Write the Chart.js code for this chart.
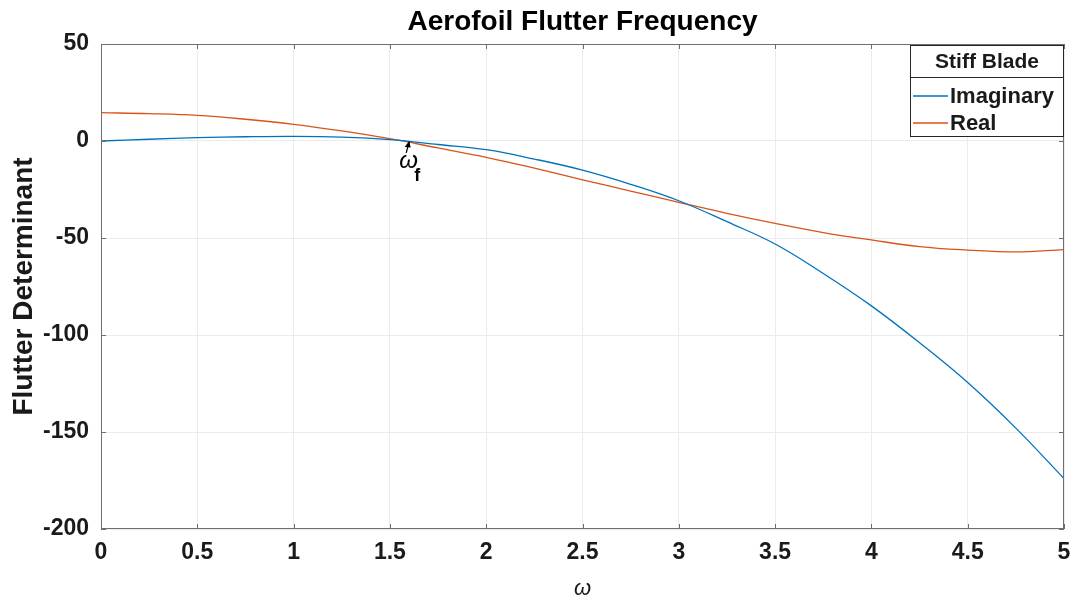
<!DOCTYPE html>
<html>
<head>
<meta charset="utf-8">
<script src="https://cdn.jsdelivr.net/npm/chart.js@4/dist/chart.umd.min.js"></script>
<style>
  html, body { margin: 0; padding: 0; background: #fff; }
  #wrap { width: 1078px; height: 604px; }
</style>
</head>
<body>
<div id="wrap"><canvas id="chartFlutter"></canvas></div>
<script>
// valores (passo de 0.25 em omega)
const omega = [0, 0.25, 0.5, 0.75, 1, 1.25, 1.5, 1.75, 2, 2.25, 2.5, 2.75, 3, 3.25, 3.5, 3.75, 4, 4.25, 4.5, 4.75, 5]
const imaginary = [0, 0.9, 1.7, 2.2, 2.4, 2.0, 0.7, -1.8, -4.5, -9.3, -15, -22.3, -30.8, -41.6, -53.1, -68.3, -85, -104, -124.5, -148, -174]
const real = [14.6, 14.1, 13.2, 11.2, 8.6, 5.2, 1.2, -3.6, -8.4, -14, -20, -25.8, -31.6, -37.3, -42.5, -47.2, -51, -54.4, -56.2, -57.2, -56]
const seriesNames = ['Imaginary', 'Real']
const legendTitle = 'Stiff Blade'
const flutterOmega = 1.6

const blue = '#0072BD'
const orange = '#D95319'
const axisColor = '#6e6e6e'
const textColor = '#1a1a1a'
const FONT = '"Liberation Sans", Arial, sans-serif'

Chart.defaults.font.family = FONT
Chart.defaults.color = textColor

const toPoints = ys => omega.map((x, i) => ({ x: x, y: ys[i] }))

// caixa estilo MATLAB + ticks para dentro + legenda + anotação omega_f
const matlabExtras = {
    id: 'matlabExtras',
    afterDraw(chart) {
        const { ctx, chartArea: a, scales: { x, y } } = chart
        ctx.save()
        // caixa
        ctx.strokeStyle = axisColor
        ctx.lineWidth = 1
        ctx.strokeRect(a.left + 0.5, a.top + 0.5, a.right - a.left - 1, a.bottom - a.top - 1)
        // ticks para dentro
        const tl = 5
        ctx.beginPath()
        x.ticks.forEach(t => {
            const px = Math.round(x.getPixelForValue(t.value)) + 0.5
            ctx.moveTo(px, a.bottom); ctx.lineTo(px, a.bottom - tl)
            ctx.moveTo(px, a.top); ctx.lineTo(px, a.top + tl)
        })
        y.ticks.forEach(t => {
            const py = Math.round(y.getPixelForValue(t.value)) + 0.5
            ctx.moveTo(a.left, py); ctx.lineTo(a.left + tl, py)
            ctx.moveTo(a.right, py); ctx.lineTo(a.right - tl, py)
        })
        ctx.stroke()

        // anotação omega_f
        const fx = x.getPixelForValue(flutterOmega)
        const fy = y.getPixelForValue(0)
        ctx.strokeStyle = '#000'
        ctx.fillStyle = '#000'
        ctx.lineWidth = 1.2
        ctx.beginPath()
        ctx.moveTo(fx - 3, fy + 12)
        ctx.lineTo(fx, fy + 1)
        ctx.stroke()
        ctx.beginPath()
        ctx.moveTo(fx, fy)
        ctx.lineTo(fx - 4.5, fy + 6)
        ctx.lineTo(fx + 1.5, fy + 6.5)
        ctx.closePath()
        ctx.fill()
        ctx.textBaseline = 'alphabetic'
        ctx.textAlign = 'left'
        ctx.font = 'italic 24px ' + FONT
        ctx.fillText('ω', fx - 10, fy + 27)
        ctx.font = 'bold 18px ' + FONT
        ctx.fillText('f', fx + 5, fy + 40)

        // legenda
        const lw = 154, lh = 92
        const lx = a.right - lw, ly = a.top + 1
        ctx.fillStyle = '#fff'
        ctx.fillRect(lx, ly, lw, lh)
        ctx.strokeStyle = '#262626'
        ctx.lineWidth = 1
        ctx.strokeRect(lx + 0.5, ly + 0.5, lw - 1, lh - 1)
        ctx.beginPath()
        ctx.moveTo(lx, ly + 32.5)
        ctx.lineTo(lx + lw, ly + 32.5)
        ctx.stroke()
        ctx.fillStyle = textColor
        ctx.font = 'bold 21px ' + FONT
        ctx.textAlign = 'center'
        ctx.textBaseline = 'middle'
        ctx.fillText(legendTitle, lx + lw / 2, ly + 17)
        ctx.textAlign = 'left'
        chart.data.datasets.forEach((ds, i) => {
            const ry = ly + 51 + i * 27
            ctx.strokeStyle = ds.borderColor
            ctx.lineWidth = 1.3
            ctx.beginPath()
            ctx.moveTo(lx + 3, ry)
            ctx.lineTo(lx + 38, ry)
            ctx.stroke()
            ctx.fillStyle = textColor
            ctx.font = 'bold 22px ' + FONT
            ctx.fillText(ds.label, lx + 40, ry + 1)
        })
        ctx.restore()
    }
}

new Chart(document.getElementById('chartFlutter'), {
    type: 'line',
    data: {
        datasets: [
            { label: seriesNames[0], data: toPoints(imaginary), borderColor: blue, borderWidth: 1.3 },
            { label: seriesNames[1], data: toPoints(real), borderColor: orange, borderWidth: 1.3 }
        ]
    },
    options: {
        responsive: true,
        maintainAspectRatio: false,
        animation: false,
        layout: { padding: { left: 0, right: 14, top: 0, bottom: 0 } },
        elements: {
            point: { radius: 0 },
            line: { tension: 0.4, fill: false }
        },
        plugins: {
            legend: { display: false },
            tooltip: { enabled: false },
            title: {
                display: true,
                text: 'Aerofoil Flutter Frequency',
                fullSize: false,
                color: '#000',
                font: { size: 28, weight: 'bold' },
                padding: { top: 5, bottom: 5.4 }
            }
        },
        scales: {
            x: {
                type: 'linear',
                min: 0,
                max: 5,
                afterFit: s => { s.height = 75; s.paddingLeft = 0; s.paddingRight = 0 },
                grid: { color: '#ebebeb', drawTicks: false },
                border: { display: false },
                ticks: { stepSize: 0.5, padding: 10, font: { size: 23, weight: 'bold' }, color: textColor, maxRotation: 0, callback: v => String(v) },
                title: { display: true, text: 'ω', font: { size: 22, style: 'italic' }, color: textColor, padding: { top: 0, bottom: 2 } }
            },
            y: {
                min: -200,
                max: 50,
                afterFit: s => { s.width = 101 },
                grid: { color: '#ebebeb', drawTicks: false },
                border: { display: false },
                ticks: { stepSize: 50, padding: 12, font: { size: 23, weight: 'bold' }, color: textColor, callback: v => String(v) },
                title: { display: true, text: 'Flutter Determinant', font: { size: 28, weight: 'bold' }, color: textColor, padding: { top: 7, bottom: 0 } }
            }
        }
    },
    plugins: [matlabExtras]
})
</script>
</body>
</html>
